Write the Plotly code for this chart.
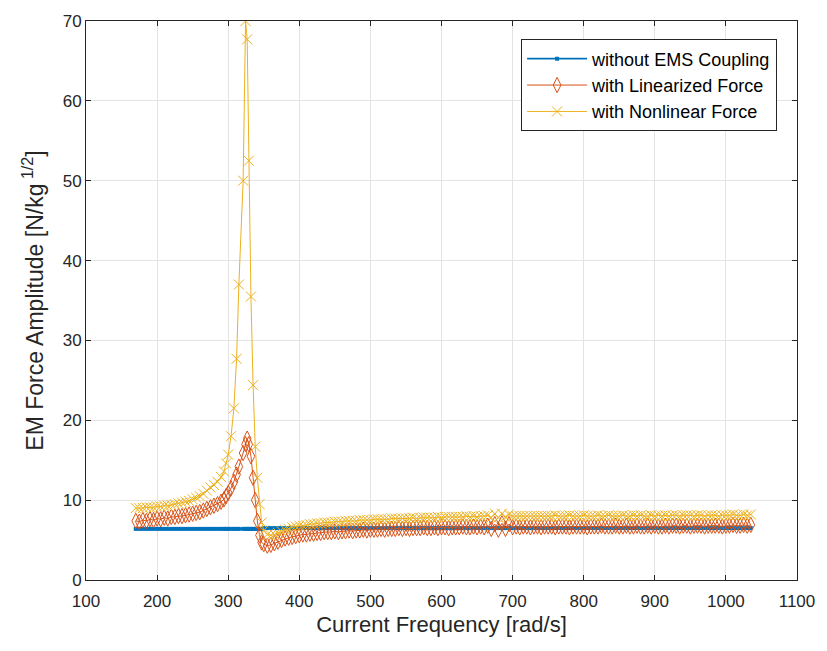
import plotly.graph_objects as go

# ---------------- data ----------------
freq_low = list(range(170, 295, 5))          # 170 ... 290
freq_peak = [294, 297, 300, 304, 308, 311.8, 315, 321, 324.4, 326.7,
             329, 332, 335, 338, 341, 344, 347]
freq_high = list(range(350, 1040, 5))        # 350 ... 1035
freq = freq_low + freq_peak + freq_high

without_coupling = [
    6.4, 6.4, 6.4, 6.4, 6.4, 6.4, 6.4, 6.4, 6.4, 6.4, 6.4, 6.4, 6.4, 6.4, 6.4, 6.4, 6.4, 6.4, 6.4, 6.4,
    6.4, 6.4, 6.4, 6.4, 6.4,
    6.4, 6.4, 6.4, 6.4, 6.4, 6.4, 6.4, 6.4, 6.4, 6.4, 6.4, 6.4, 6.4, 6.4, 6.4, 6.4, 6.4,
    6.5, 6.5, 6.5, 6.5, 6.5, 6.5, 6.5, 6.5, 6.5, 6.5, 6.5, 6.5, 6.5, 6.5, 6.5, 6.5, 6.5, 6.5, 6.5, 6.5,
    6.5, 6.5, 6.5, 6.5, 6.5, 6.5, 6.5, 6.5, 6.5, 6.5, 6.5, 6.5, 6.5, 6.5, 6.5, 6.5, 6.5, 6.5, 6.5, 6.5,
    6.5, 6.5, 6.5, 6.5, 6.5, 6.5, 6.5, 6.5, 6.5, 6.5, 6.5, 6.5, 6.5, 6.5, 6.5, 6.5, 6.5, 6.5, 6.5, 6.5,
    6.5, 6.5, 6.5, 6.5, 6.5, 6.5, 6.5, 6.5, 6.5, 6.5, 6.5, 6.5, 6.5, 6.5, 6.5, 6.5, 6.5, 6.5, 6.5, 6.5,
    6.5, 6.5, 6.5, 6.5, 6.5, 6.5, 6.5, 6.5, 6.5, 6.5, 6.5, 6.5, 6.5, 6.5, 6.5, 6.5, 6.5, 6.5, 6.5, 6.5,
    6.5, 6.5, 6.5, 6.5, 6.5, 6.5, 6.5, 6.5, 6.5, 6.5, 6.5, 6.5, 6.5, 6.5, 6.5, 6.5, 6.5, 6.5, 6.5, 6.5,
    6.5, 6.5, 6.5, 6.5, 6.5, 6.5, 6.5, 6.5, 6.5, 6.5, 6.5, 6.5, 6.5, 6.5, 6.5, 6.5, 6.5, 6.5,
]

linearized = [
    # 170 - 290
    7.4, 7.3, 7.5, 7.4, 7.6, 7.5, 7.7, 7.6, 7.8, 7.7, 7.9, 7.9, 8.0, 8.0, 8.1, 8.2, 8.3, 8.4, 8.5, 8.7,
    8.9, 9.1, 9.3, 9.5, 9.8,
    # resonance region
    10.1, 10.5, 10.9, 11.5, 12.3, 13.2, 14.2, 15.9, 17.0, 17.7, 17.0, 15.5, 12.8, 10.0, 7.4, 5.6, 4.7,
    # 350 - 1035
    4.5, 4.3, 4.4, 4.6, 4.8, 5.0, 5.2, 5.3, 5.4, 5.5, 5.6, 5.7, 5.7, 5.8, 5.8, 5.9, 5.9, 6.0, 6.0, 6.0,
    6.1, 6.0, 6.1, 6.1, 6.2, 6.1, 6.2, 6.2, 6.3, 6.2, 6.3, 6.3, 6.3, 6.4, 6.3, 6.4, 6.4, 6.4, 6.5, 6.4,
    6.5, 6.4, 6.5, 6.5, 6.5, 6.6, 6.5, 6.5, 6.6, 6.5, 6.6, 6.6, 6.5, 6.6, 6.6, 6.6, 6.7, 6.6, 6.6, 6.7,
    6.6, 6.7, 6.6, 6.8, 6.4, 7.0, 6.3, 7.1, 6.4, 7.0, 6.6, 6.7, 6.6, 6.7, 6.7, 6.6, 6.7, 6.7, 6.6, 6.7,
    6.7, 6.7, 6.6, 6.7, 6.7, 6.7, 6.6, 6.7, 6.7, 6.7, 6.7, 6.6, 6.7, 6.7, 6.7, 6.8, 6.7, 6.7, 6.7, 6.8,
    6.7, 6.7, 6.8, 6.7, 6.7, 6.8, 6.7, 6.7, 6.8, 6.7, 6.8, 6.7, 6.7, 6.8, 6.7, 6.8, 6.8, 6.7, 6.8, 6.8,
    6.7, 6.8, 6.8, 6.8, 6.7, 6.8, 6.8, 6.8, 6.8, 6.7, 6.8, 6.8, 6.9, 6.8, 6.8, 6.9, 6.8, 6.9,
]

nonlinear = [
    # 170 - 290
    9.0, 9.0, 9.0, 9.1, 9.1, 9.1, 9.2, 9.2, 9.3, 9.3, 9.4, 9.5, 9.6, 9.7, 9.8, 9.9, 10.1, 10.3, 10.5, 10.8,
    11.2, 11.6, 11.9, 12.3, 12.9,
    # resonance region
    13.6, 14.6, 15.7, 18.0, 21.5, 27.7, 37.0, 50.0, 70.0, 67.7, 52.5, 35.5, 24.4, 16.7, 12.8, 9.5, 7.2,
    # 350 - 1035
    6.2, 5.7, 5.6, 5.7, 5.9, 6.1, 6.3, 6.4, 6.6, 6.7, 6.8, 6.8, 6.9, 7.0, 7.0, 7.1, 7.1, 7.2, 7.2, 7.2,
    7.3, 7.3, 7.3, 7.4, 7.4, 7.4, 7.4, 7.5, 7.5, 7.5, 7.5, 7.6, 7.6, 7.6, 7.6, 7.6, 7.7, 7.7, 7.7, 7.7,
    7.7, 7.7, 7.8, 7.7, 7.8, 7.8, 7.8, 7.8, 7.8, 7.9, 7.8, 7.9, 7.9, 7.9, 7.9, 7.9, 7.9, 8.0, 7.9, 8.0,
    7.9, 8.0, 8.0, 8.1, 7.8, 8.3, 7.8, 8.3, 7.9, 8.2, 8.0, 8.0, 8.0, 8.0, 8.0, 8.0, 8.0, 8.0, 8.0, 8.0,
    8.0, 8.0, 8.1, 8.0, 8.0, 8.0, 8.1, 8.0, 8.0, 8.0, 8.1, 8.0, 8.0, 8.0, 8.1, 8.0, 8.0, 8.1, 8.0, 8.0,
    8.0, 8.1, 8.0, 8.0, 8.1, 8.0, 8.1, 8.0, 8.0, 8.1, 8.0, 8.1, 8.0, 8.1, 8.0, 8.1, 8.1, 8.0, 8.1, 8.1,
    8.1, 8.0, 8.1, 8.1, 8.0, 8.1, 8.1, 8.1, 8.0, 8.1, 8.1, 8.1, 8.2, 8.1, 8.1, 8.2, 8.1, 8.2,
]

names = ["without EMS Coupling", "with Linearized Force", "with Nonlinear Force"]
x_ticks = [100, 200, 300, 400, 500, 600, 700, 800, 900, 1000, 1100]
y_ticks = [0, 10, 20, 30, 40, 50, 60, 70]

BLUE = "#0072BD"
ORANGE = "#D95319"
YELLOW = "#EDB120"
AX = "#262626"
FONT = "Liberation Sans, Arial, sans-serif"

fig = go.Figure()
fig.add_trace(go.Scatter(
    x=freq, y=without_coupling, name=names[0], mode="lines+markers",
    line=dict(color=BLUE, width=1.8),
    marker=dict(symbol="square", size=4, color=BLUE, line=dict(width=0)),
))
fig.add_trace(go.Scatter(
    x=freq, y=linearized, name=names[1], mode="lines+markers",
    line=dict(color=ORANGE, width=1),
    marker=dict(symbol="diamond-tall-open", size=11, color=ORANGE, line=dict(width=1, color=ORANGE)),
))
fig.add_trace(go.Scatter(
    x=freq, y=nonlinear, name=names[2], mode="lines+markers",
    line=dict(color=YELLOW, width=1),
    marker=dict(symbol="x-thin-open", size=10, color=YELLOW, line=dict(width=1, color=YELLOW)),
))

axis_common = dict(
    showline=True, linecolor=AX, linewidth=1, mirror="allticks",
    ticks="inside", ticklen=5, tickcolor=AX, tickwidth=1,
    showgrid=True, gridcolor="#e3e3e3", gridwidth=1, zeroline=False,
    tickfont=dict(family=FONT, size=17, color=AX),
)

fig.update_layout(
    width=827, height=651,
    margin=dict(l=86, r=25, t=16, b=71),
    paper_bgcolor="white", plot_bgcolor="white",
    font=dict(family=FONT, color=AX),
    showlegend=True,
    legend=dict(
        x=0.972, y=0.967, xanchor="right", yanchor="top",
        bgcolor="white", bordercolor=AX, borderwidth=1,
        font=dict(family=FONT, size=18, color="#000000"),
        itemwidth=60, tracegroupgap=0,
    ),
    xaxis=dict(
        range=[100, 1100], tickvals=x_ticks, ticktext=[str(v) for v in x_ticks],
        ticklabelstandoff=6,
        title=dict(text="Current Frequency [rad/s]", font=dict(family=FONT, size=22, color=AX), standoff=6),
        **axis_common,
    ),
    yaxis=dict(
        range=[0, 70], tickvals=y_ticks, ticktext=[str(v) for v in y_ticks],
        title=dict(text="EM Force Amplitude [N/kg<sup> 1/2</sup>]", font=dict(family=FONT, size=23, color=AX), standoff=12),
        **axis_common,
    ),
)

fig.write_html("out.html")
